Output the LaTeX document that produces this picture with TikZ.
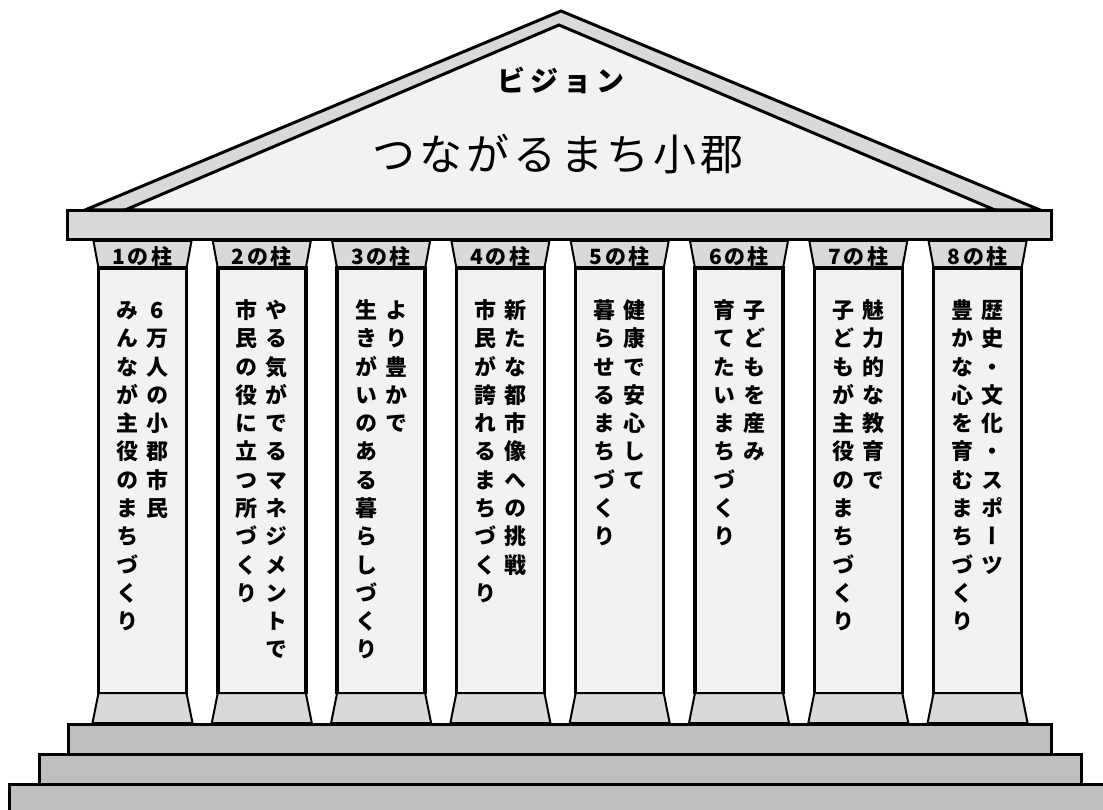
\documentclass[tikz,border=0pt]{standalone}
\usepackage{fontspec}
\setmainfont{Noto Sans CJK JP}
\newfontfamily\tatefont[RawFeature=+vert]{Noto Sans CJK JP}

\definecolor{techo}{HTML}{D9D9D9}
\definecolor{fuste}{HTML}{F2F2F2}
\definecolor{escalon}{HTML}{BFBFBF}

% texto vertical, un caracter por linea
\newcommand\tate[1]{\expandafter\tateloop#1\relax}
\def\tateloop#1{\ifx\relax#1\else\hbox to 1em{\hss#1\hss}\expandafter\tateloop\fi}
% texto con espacio entre caracteres
\newlength\espacio
\newcommand\abierto[2]{\setlength\espacio{#1}\expandafter\abiertoloop#2\relax\kern-\espacio}
\def\abiertoloop#1{\ifx\relax#1\else#1\kern\espacio\expandafter\abiertoloop\fi}

\begin{document}
\begin{tikzpicture}[x=1pt, y=-1pt,
    borde/.style={black, line width=3pt},
    fino/.style={black, line width=2pt},
    etiqueta/.style={inner sep=0pt, font=\fontsize{21}{23}\selectfont\bfseries},
    columna/.style={inner sep=0pt, anchor=base, font=\tatefont\fontsize{22}{24}\selectfont\bfseries}]
    \useasboundingbox (0,0) rectangle (1103,810);
				%Techo
				\draw[borde, fill=techo] (85,210)--(561,11)--(1040,210)--cycle;
				\draw[borde, fill=fuste] (125,210)--(559,25)--(995,210)--cycle;
				\node[font=\bfseries] (vision) at (561,80) {\fontsize{28}{30}\selectfont\abierto{5pt}{ビジョン}};
				\node (lema) at (558,154) {\fontsize{43}{45}\selectfont\abierto{4pt}{つながるまち小郡}};
				%Viga
				\draw[borde, fill=techo] (67.5,210.5) rectangle (1051.5,239.5);
				%Escalones
				\draw[borde, fill=escalon] (9.5,784.5) rectangle (1115,830);
				\draw[borde, fill=escalon] (39.5,754.5) rectangle (1081.5,784.5);
				\draw[borde, fill=escalon] (68.5,724.5) rectangle (1051.5,754.5);
				%Columnas
				\foreach \i/\ra/\la in {1/6万人の小郡市民/みんなが主役のまちづくり,
				    2/やる気がでるマネジメントで/市民の役に立つ所づくり,
				    3/より豊かで/生きがいのある暮らしづくり,
				    4/新たな都市像への挑戦/市民が誇れるまちづくり,
				    5/健康で安心して/暮らせるまちづくり,
				    6/子どもを産み/育てたいまちづくり,
				    7/魅力的な教育で/子どもが主役のまちづくり,
				    8/歴史・文化・スポーツ/豊かな心を育むまちづくり}{
				    \pgfmathsetmacro\cx{142.5+(\i-1)*119.3}
				    % capitel
				    \draw[fino, fill=techo] (\cx-49,241)--(\cx+49,241)--(\cx+44,268)--(\cx-44,268)--cycle;
				    % base
				    \draw[fino, fill=techo] (\cx-44,693)--(\cx+44,693)--(\cx+50,723)--(\cx-50,723)--cycle;
				    % fuste
				    \fill[fuste] (\cx-44,268) rectangle (\cx+44,693);
				    \draw[borde, line width=3.5pt] (\cx-44,694)--(\cx-44,268)--(\cx+44,268)--(\cx+44,694);
				    \draw[black, line width=1.5pt] (\cx-44,693)--(\cx+44,693);
				    \node[etiqueta] (p\i) at (\cx,256) {\abierto{2.5pt}{\i の柱}};
				    \node[columna] (d\i) at (\cx+15,318.4) {\vtop{\baselineskip=28.3pt\tate{\ra}}};
				    \node[columna] (i\i) at (\cx-15,318.4) {\vtop{\baselineskip=28.3pt\tate{\la}}};
				}
\end{tikzpicture}
\end{document}
